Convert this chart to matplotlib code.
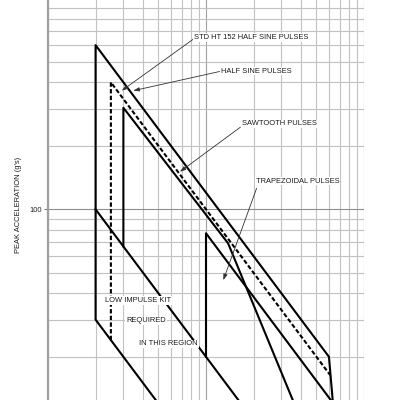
import matplotlib
matplotlib.use("Agg")
import matplotlib.pyplot as plt
from matplotlib.ticker import LogLocator, NullFormatter, FixedLocator, FixedFormatter

# ---- data (pulse duration, peak acceleration) ----
half_sine_x = [6, 2, 2, 60, 65]
half_sine_y = [10, 30, 600, 20, 10]

std_ht152_x = [2.5, 2.5, 61]
std_ht152_y = [24, 400, 16.4]

sawtooth_x = [3, 3, 13.8, 40]
sawtooth_y = [66.7, 303, 69, 10]

trapezoid_x = [10, 10, 62]
trapezoid_y = [20, 77, 12.4]

low_impulse_x = [2, 20]
low_impulse_y = [100, 10]

ytick_vals = [100]
ytick_labels = ["100"]

labels = ["STD HT 152 HALF SINE PULSES", "HALF SINE PULSES", "SAWTOOTH PULSES", "TRAPEZOIDAL PULSES"]
label_xy = [(8.4, 653), (12.4, 452), (16.8, 254), (20.7, 136)]
leader_start = [(8.3, 640), (12.2, 450), (16.5, 245), (20.9, 125.7)]
leader_end = [(2.93, 365), (3.47, 365), (6.84, 150.7), (12.87, 46.2)]

region_text = ["LOW IMPULSE KIT", "REQUIRED", "IN THIS REGION"]
region_xy = [(2.3, 36.9), (3.12, 29.6), (3.78, 23.0)]

plt.rcParams['font.family'] = ['Liberation Sans', 'DejaVu Sans']

fig = plt.figure(figsize=(4, 4), dpi=100)
ax = fig.add_axes([0.12, -0.0508, 0.79, 1.055])
ax.set_xscale('log')
ax.set_yscale('log')
ax.set_xlim(1, 100)
ax.set_ylim(10, 1000)

ax.xaxis.set_minor_locator(LogLocator(base=10, subs=range(2, 10)))
ax.yaxis.set_minor_locator(LogLocator(base=10, subs=range(2, 10)))
ax.yaxis.set_major_locator(FixedLocator(ytick_vals))
ax.yaxis.set_major_formatter(FixedFormatter(ytick_labels))
ax.xaxis.set_minor_formatter(NullFormatter())
ax.yaxis.set_minor_formatter(NullFormatter())
ax.grid(True, which='minor', color='#c2c2c2', lw=0.8)
ax.grid(True, which='major', color='#8e8e8e', lw=0.8)
ax.xaxis.grid(True, which='major', color='#a0a0a0', lw=0.8)
ax.set_axisbelow(True)
ax.tick_params(axis='y', which='major', length=3, width=0.8, color='#777777',
               labelsize=5.4, labelcolor='#222222', pad=1.5)
ax.tick_params(axis='y', which='minor', length=0)
ax.tick_params(axis='x', which='both', length=0, labelbottom=False)
for s in ['top', 'right', 'bottom']:
    ax.spines[s].set_visible(False)
ax.spines['left'].set_color('#a0a0a0')
ax.spines['left'].set_linewidth(1.6)

lw = 1.5
ax.plot(half_sine_x, half_sine_y, color='black', lw=lw, zorder=3)
ax.plot(std_ht152_x, std_ht152_y, color='black', lw=lw, ls=(0, (2.1, 1.1)), zorder=3)
ax.plot(sawtooth_x, sawtooth_y, color='black', lw=lw, zorder=3)
ax.plot(trapezoid_x, trapezoid_y, color='black', lw=lw, zorder=3)
ax.plot(low_impulse_x, low_impulse_y, color='black', lw=lw, zorder=3)

for txt, xy, st, en in zip(labels, label_xy, leader_start, leader_end):
    ax.annotate('', xy=en, xytext=st,
                arrowprops=dict(arrowstyle='-|>,head_length=0.35,head_width=0.12',
                                color='#333333', lw=0.6, shrinkA=0, shrinkB=0), zorder=4)
    ax.text(xy[0], xy[1], txt, fontsize=5.4, color='#1a1a1a', ha='left', va='center',
            bbox=dict(facecolor='white', edgecolor='none', pad=0.6), zorder=5)

for txt, xy in zip(region_text, region_xy):
    ax.text(xy[0], xy[1], txt, fontsize=5.4, color='#1a1a1a', ha='left', va='center',
            bbox=dict(facecolor='white', edgecolor='none', pad=0.6), zorder=5)

fig.text(18.3 / 400, 1 - 205 / 400, "PEAK ACCELERATION (g's)", rotation=90,
         fontsize=5.4, color='#1a1a1a', ha='center', va='center')

fig.savefig('out.png', dpi=100)
